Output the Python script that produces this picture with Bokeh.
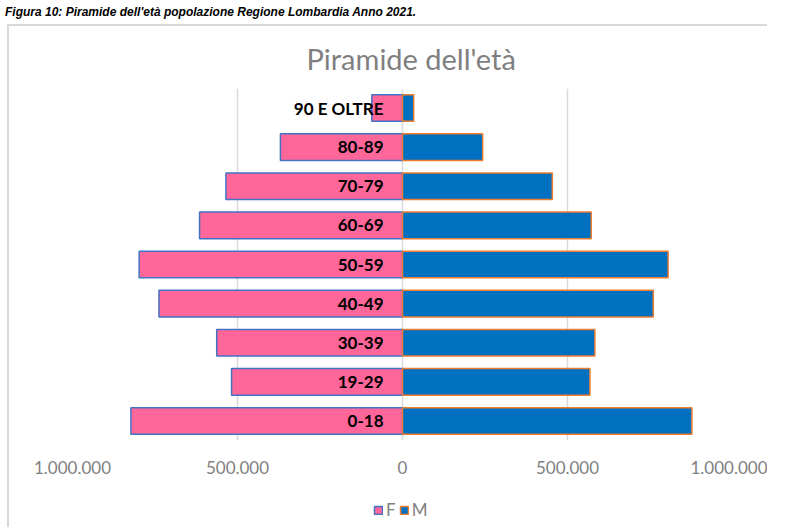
from bokeh.plotting import figure
from bokeh.models import (ColumnDataSource, FactorRange, FixedTicker, Legend, LegendItem,
                          Div, InlineStyleSheet)
from bokeh.layouts import column
from bokeh.core.properties import value
from bokeh.embed import file_html
from bokeh.resources import INLINE

caption = "Figura 10: Piramide dell'età popolazione Regione Lombardia Anno 2021."
title_text = "Piramide dell'età"
age_groups = ["0-18", "19-29", "30-39", "40-49", "50-59", "60-69", "70-79", "80-89", "90 E OLTRE"]
females = [823000, 518000, 563000, 738000, 798000, 615000, 535000, 370000, 93000]
males = [877000, 568000, 583000, 760000, 805000, 572000, 454000, 243000, 34000]
tick_values = [-1000000, -500000, 0, 500000, 1000000]
tick_labels = ["1.000.000", "500.000", "0", "500.000", "1.000.000"]
series_names = ["F", "M"]

FONT = "Lato"
F_FILL, F_LINE = "#FF6699", "#4472C4"
M_FILL, M_LINE = "#0070C0", "#ED7D31"

src = ColumnDataSource(dict(
    age=age_groups,
    f_left=[-v for v in females],
    zero=[0] * len(age_groups),
    m_right=males,
))

p = figure(width=760, height=463, output_backend="svg", toolbar_location=None,
           y_range=FactorRange(*age_groups), x_range=(-1000000, 1000000),
           min_border_left=63, min_border_right=37, min_border_top=60, min_border_bottom=49,
           margin=(0, 0, 0, 7))
p.outline_line_color = None
p.background_fill_color = "white"
p.border_fill_color = "white"

p.title.text = title_text
p.title.align = "left"
p.title.text_font = FONT
p.title.text_font_size = "29px"
p.title.text_font_style = "normal"
p.title.text_color = "#7f7f7f"
p.title.standoff = 25
p.title.offset = 234

p.xgrid.ticker = FixedTicker(ticks=tick_values)
p.xgrid.grid_line_color = "#d9d9d9"
p.xgrid.grid_line_width = 1.5
p.ygrid.grid_line_color = None

p.xaxis.ticker = FixedTicker(ticks=tick_values)
p.xaxis.major_label_overrides = {v: l for v, l in zip(tick_values, tick_labels)}
p.xaxis.axis_line_color = None
p.xaxis.major_tick_line_color = None
p.xaxis.minor_tick_line_color = None
p.xaxis.major_label_text_font = FONT
p.xaxis.major_label_text_font_size = "17px"
p.xaxis.major_label_text_color = "#7f7f7f"
p.xaxis.major_label_standoff = 14
p.yaxis.visible = False

p.hbar(y="age", left="f_left", right="zero", height=0.68, source=src,
       fill_color=F_FILL, line_color=F_LINE, line_width=1.5)
p.hbar(y="age", left="zero", right="m_right", height=0.68, source=src,
       fill_color=M_FILL, line_color=M_LINE, line_width=1.5)

p.text(x="zero", y="age", text="age", source=src, x_offset=-19,
       text_align="right", text_baseline="middle",
       text_font=value(FONT), text_font_size="17px", text_font_style="bold",
       text_color="black")

p.stylesheets = [InlineStyleSheet(css=":host { border-top: 2px solid #d9d9d9; border-left: 2px solid #d9d9d9; }")]

# legend strip below the chart (shares the chart's scales; its bars are hidden)
p2 = figure(width=760, height=40, output_backend="svg", toolbar_location=None,
            x_range=p.x_range, y_range=p.y_range, min_border=0, margin=(0, 0, 0, 7))
p2.axis.visible = False
p2.grid.visible = False
p2.outline_line_color = None
lf = p2.hbar(y="age", left="f_left", right="zero", height=0.68, source=src,
             fill_color=F_FILL, line_color=F_LINE, line_width=1.5, visible=False)
lm = p2.hbar(y="age", left="zero", right="m_right", height=0.68, source=src,
             fill_color=M_FILL, line_color=M_LINE, line_width=1.5, visible=False)
legend = Legend(items=[LegendItem(label=series_names[0], renderers=[lf]),
                       LegendItem(label=series_names[1], renderers=[lm])],
                orientation="horizontal", location=(301, 7),
                label_text_font=FONT, label_text_font_size="17px",
                label_text_color="#7f7f7f", glyph_width=10, glyph_height=10,
                label_width=0, label_standoff=3, spacing=3, border_line_color=None,
                background_fill_alpha=0, padding=0, margin=0,
                inactive_fill_alpha=0)
p2.add_layout(legend)
p2.stylesheets = [InlineStyleSheet(css=":host { border-left: 2px solid #d9d9d9; }")]

cap = Div(text=caption, width=767, height=14,
          styles={"font-family": "Liberation Sans", "font-weight": "bold",
                  "font-style": "italic", "font-size": "12px", "color": "black",
                  "line-height": "14px", "white-space": "nowrap"})

layout = column(cap, p, p2, spacing=0)
open("out.html", "w").write(file_html(layout, INLINE))
